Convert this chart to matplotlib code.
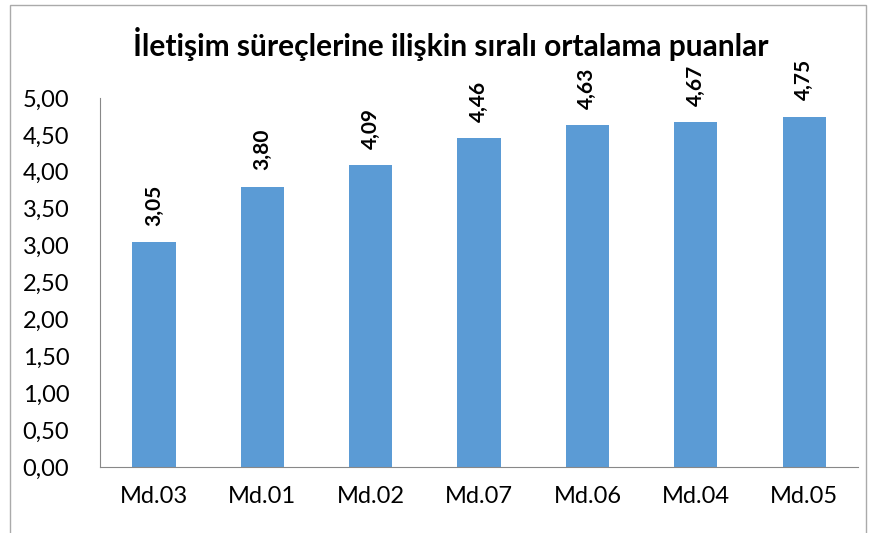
import matplotlib.pyplot as plt
from matplotlib.patches import Rectangle

categories = ["Md.03", "Md.01", "Md.02", "Md.07", "Md.06", "Md.04", "Md.05"]
values = [3.05, 3.80, 4.09, 4.46, 4.63, 4.67, 4.75]
yticks = [0, 0.5, 1, 1.5, 2, 2.5, 3, 3.5, 4, 4.5, 5]

plt.rcParams['font.family'] = ['Lato', 'DejaVu Sans']

fig = plt.figure(figsize=(8.75, 5.33), dpi=100)
ax = fig.add_axes([0.114, 0.124, 0.867, 0.692])

x = range(len(categories))
bars = ax.bar(x, values, width=0.4, color="#5B9BD5")

for b, v in zip(bars, values):
    ax.text(b.get_x() + b.get_width() / 2, v + 0.22, f"{v:.2f}".replace(".", ","),
            rotation=90, ha="center", va="bottom", fontsize=15, fontweight="bold")

ax.set_xlim(-0.5, len(categories) - 0.5)
ax.set_ylim(0, 5)
ax.set_yticks(yticks)
ax.set_yticklabels([f"{t:.2f}".replace(".", ",") for t in yticks], fontsize=17)
ax.set_xticks(list(x))
ax.set_xticklabels(categories, fontsize=17)
ax.tick_params(length=0)
ax.tick_params(axis="y", pad=22)
ax.tick_params(axis="x", pad=14)

for s in ["top", "right"]:
    ax.spines[s].set_visible(False)
for s in ["left", "bottom"]:
    ax.spines[s].set_color("#888888")

fig.text(0.515, 0.918, "İletişim süreçlerine ilişkin sıralı ortalama puanlar",
         ha="center", va="center", fontsize=21.5, fontweight="bold")

# chart area border
fig.patches.append(Rectangle((10 / 875, -0.02), 856 / 875, 1.02 - 5 / 533,
                             transform=fig.transFigure, fill=False,
                             edgecolor="#aaaaaa", linewidth=1))

fig.savefig("out.png", dpi=100)
